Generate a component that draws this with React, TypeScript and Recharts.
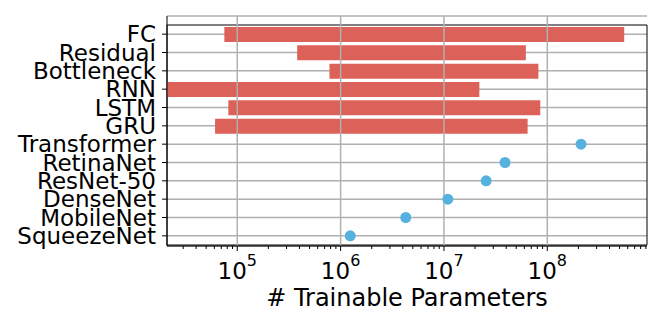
import React from 'react'
import {
  ComposedChart, Bar, Line, XAxis, YAxis, CartesianGrid, ReferenceLine, ReferenceArea,
} from 'recharts'

// layer types, top to bottom
const names = [
  'FC', 'Residual', 'Bottleneck', 'RNN', 'LSTM', 'GRU',
  'Transformer', 'RetinaNet', 'ResNet-50', 'DenseNet', 'MobileNet', 'SqueezeNet',
]
// parameter range of the layer families (red bars)
const rangeLow = [7.5e4, 3.8e5, 7.8e5, 1.8e4, 8.2e4, 6.1e4, null, null, null, null, null, null]
const rangeHigh = [5.55e8, 6.2e7, 8.2e7, 2.2e7, 8.55e7, 6.45e7, null, null, null, null, null, null]
// full models (blue dots)
const modelParams = [null, null, null, null, null, null, 2.12e8, 3.9e7, 2.56e7, 1.09e7, 4.27e6, 1.24e6]

const majorTicks = [1e5, 1e6, 1e7, 1e8]
const minorTicks = [
  3e4, 4e4, 5e4, 6e4, 7e4, 8e4, 9e4,
  2e5, 3e5, 4e5, 5e5, 6e5, 7e5, 8e5, 9e5,
  2e6, 3e6, 4e6, 5e6, 6e6, 7e6, 8e6, 9e6,
  2e7, 3e7, 4e7, 5e7, 6e7, 7e7, 8e7, 9e7,
  2e8, 3e8, 4e8, 5e8, 6e8, 7e8, 8e8, 9e8,
]
const xDomain = [2.09e4, 9.22e8]

const data = names.map((name, i) => ({
  name,
  range: rangeLow[i] != null ? [rangeLow[i], rangeHigh[i]] : null,
  params: modelParams[i],
}))

const FONT = 'DejaVu Sans, sans-serif'

const XTick = (props: any) => {
  const { x, y, payload } = props
  const major = majorTicks.includes(payload.value)
  const exp = Math.round(Math.log10(payload.value))
  return (
    <g>
      <line x1={x} x2={x} y1={y} y2={y + (major ? 5 : 3)} stroke="#000" strokeWidth={1} />
      {major && (
        <text x={x} y={y + 32.5} textAnchor="middle" fontSize={23} fill="#000" fontFamily={FONT}>
          10<tspan dy={-12.5} fontSize={16}>{exp}</tspan>
        </text>
      )}
    </g>
  )
}

const App = () => {
  return (
    <div style={{ position: 'absolute', left: 0, top: 0 }}>
      <ComposedChart
        width={664}
        height={321}
        data={data}
        layout="vertical"
        margin={{ top: 16, right: 17, bottom: 0, left: 0 }}
        style={{ fontFamily: FONT }}
      >
        <XAxis
          type="number"
          scale="log"
          domain={xDomain}
          allowDataOverflow
          ticks={[...majorTicks, ...minorTicks].sort((a, b) => a - b)}
          interval={0}
          tick={<XTick />}
          tickLine={false}
          tickSize={0}
          tickMargin={0}
          axisLine={{ stroke: '#000' }}
          height={75}
          label={{ value: '# Trainable Parameters', position: 'insideBottom', offset: 15, fontSize: 24, fill: '#000' }}
        />
        <YAxis
          type="category"
          dataKey="name"
          width={167}
          padding={{ top: 9, bottom: 1 }}
          interval={0}
          tick={{ fill: '#000', fontSize: 23 }}
          tickSize={5}
          tickMargin={6}
          tickLine={{ stroke: '#000' }}
          axisLine={{ stroke: '#000' }}
        />
        <Bar dataKey="range" fill="#dc6259" barSize={15} isAnimationActive={false} />
        <CartesianGrid vertical={false} stroke="#b0b0b0" strokeWidth={1.5} />
        {majorTicks.map(t => (
          <ReferenceLine key={t} x={t} stroke="#b0b0b0" strokeWidth={1.5} />
        ))}
        <Line
          dataKey="params"
          stroke="none"
          dot={{ r: 5.5, fill: '#57b1de', stroke: 'none' }}
          activeDot={false}
          isAnimationActive={false}
        />
        <ReferenceArea x1={xDomain[0]} x2={xDomain[1]} fill="none" stroke="#000" strokeWidth={1} />
      </ComposedChart>
    </div>
  )
}

export default App
